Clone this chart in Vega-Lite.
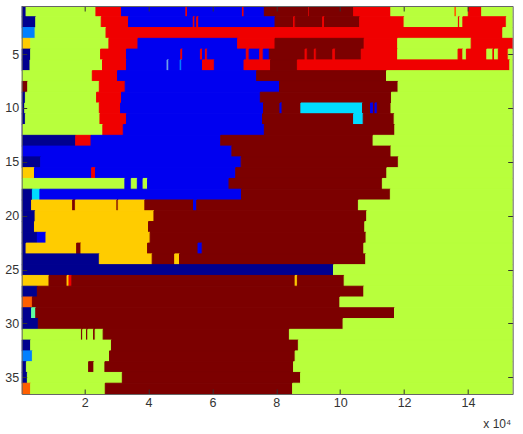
{"$schema":"https://vega.github.io/schema/vega-lite/v6.json","width":491,"height":388,"autosize":"none","padding":{"left":21.7,"top":6,"right":10.3,"bottom":40},"background":"white","config":{"view":{"stroke":null},"axis":{"labelFont":"Liberation Sans","titleFont":"Liberation Sans"}},
"datasets":{"segs":[
{"row":1,"x0":0.03,"x1":0.167,"c":"navy"},{"row":1,"x0":0.167,"x1":2.354,"c":"lime"},{"row":1,"x0":2.354,"x1":3.156,"c":"red"},{"row":1,"x0":3.156,"x1":5.17,"c":"blue"},{"row":1,"x0":5.17,"x1":5.22,"c":"red"},{"row":1,"x0":5.22,"x1":6.94,"c":"blue"},{"row":1,"x0":6.94,"x1":6.99,"c":"red"},{"row":1,"x0":6.99,"x1":7.625,"c":"blue"},{"row":1,"x0":7.625,"x1":9.02,"c":"maroon"},{"row":1,"x0":9.02,"x1":9.04,"c":"red"},{"row":1,"x0":9.04,"x1":10.42,"c":"maroon"},{"row":1,"x0":10.42,"x1":11.585,"c":"red"},{"row":1,"x0":11.585,"x1":13.59,"c":"lime"},{"row":1,"x0":13.59,"x1":13.64,"c":"orange"},{"row":1,"x0":13.64,"x1":14.01,"c":"lime"},{"row":1,"x0":14.01,"x1":14.43,"c":"red"},{"row":1,"x0":14.43,"x1":15.4,"c":"lime"},
{"row":2,"x0":0.03,"x1":0.47,"c":"navy"},{"row":2,"x0":0.47,"x1":2.52,"c":"lime"},{"row":2,"x0":2.52,"x1":3.375,"c":"red"},{"row":2,"x0":3.375,"x1":5.4,"c":"blue"},{"row":2,"x0":5.4,"x1":5.45,"c":"red"},{"row":2,"x0":5.45,"x1":5.51,"c":"blue"},{"row":2,"x0":5.51,"x1":5.57,"c":"red"},{"row":2,"x0":5.57,"x1":7.96,"c":"blue"},{"row":2,"x0":7.96,"x1":8.54,"c":"maroon"},{"row":2,"x0":8.54,"x1":8.59,"c":"red"},{"row":2,"x0":8.59,"x1":9.45,"c":"maroon"},{"row":2,"x0":9.45,"x1":9.51,"c":"red"},{"row":2,"x0":9.51,"x1":10.61,"c":"maroon"},{"row":2,"x0":10.61,"x1":12.0,"c":"red"},{"row":2,"x0":12.0,"x1":13.7,"c":"lime"},{"row":2,"x0":13.7,"x1":13.74,"c":"red"},{"row":2,"x0":13.74,"x1":13.84,"c":"lime"},{"row":2,"x0":13.84,"x1":15.2,"c":"red"},{"row":2,"x0":15.2,"x1":15.4,"c":"lime"},
{"row":3,"x0":0.03,"x1":0.45,"c":"azure"},{"row":3,"x0":0.45,"x1":2.67,"c":"lime"},{"row":3,"x0":2.67,"x1":15.09,"c":"red"},{"row":3,"x0":15.09,"x1":15.4,"c":"lime"},
{"row":4,"x0":0.03,"x1":0.31,"c":"amber"},{"row":4,"x0":0.31,"x1":2.76,"c":"lime"},{"row":4,"x0":2.76,"x1":3.67,"c":"red"},{"row":4,"x0":3.67,"x1":6.79,"c":"blue"},{"row":4,"x0":6.79,"x1":7.96,"c":"red"},{"row":4,"x0":7.96,"x1":10.75,"c":"maroon"},{"row":4,"x0":10.75,"x1":11.8,"c":"red"},{"row":4,"x0":11.8,"x1":14.1,"c":"lime"},{"row":4,"x0":14.1,"x1":15.4,"c":"red"},
{"row":5,"x0":0.03,"x1":0.31,"c":"navy"},{"row":5,"x0":0.31,"x1":2.5,"c":"lime"},{"row":5,"x0":2.5,"x1":3.31,"c":"red"},{"row":5,"x0":3.31,"x1":5.01,"c":"blue"},{"row":5,"x0":5.01,"x1":5.07,"c":"red"},{"row":5,"x0":5.07,"x1":5.625,"c":"blue"},{"row":5,"x0":5.625,"x1":5.69,"c":"red"},{"row":5,"x0":5.69,"x1":5.78,"c":"blue"},{"row":5,"x0":5.78,"x1":5.84,"c":"red"},{"row":5,"x0":5.84,"x1":7.06,"c":"blue"},{"row":5,"x0":7.06,"x1":7.15,"c":"red"},{"row":5,"x0":7.15,"x1":7.48,"c":"blue"},{"row":5,"x0":7.48,"x1":7.59,"c":"red"},{"row":5,"x0":7.59,"x1":7.78,"c":"blue"},{"row":5,"x0":7.78,"x1":8.9,"c":"maroon"},{"row":5,"x0":8.9,"x1":8.97,"c":"red"},{"row":5,"x0":8.97,"x1":9.19,"c":"maroon"},{"row":5,"x0":9.19,"x1":9.25,"c":"red"},{"row":5,"x0":9.25,"x1":9.77,"c":"maroon"},{"row":5,"x0":9.77,"x1":9.85,"c":"red"},{"row":5,"x0":9.85,"x1":10.66,"c":"maroon"},{"row":5,"x0":10.66,"x1":11.8,"c":"red"},{"row":5,"x0":11.8,"x1":13.69,"c":"lime"},{"row":5,"x0":13.69,"x1":13.84,"c":"red"},{"row":5,"x0":13.84,"x1":13.95,"c":"lime"},{"row":5,"x0":13.95,"x1":14.59,"c":"red"},{"row":5,"x0":14.59,"x1":14.78,"c":"lime"},{"row":5,"x0":14.78,"x1":14.83,"c":"red"},{"row":5,"x0":14.83,"x1":14.95,"c":"lime"},{"row":5,"x0":14.95,"x1":15.26,"c":"red"},{"row":5,"x0":15.26,"x1":15.4,"c":"lime"},
{"row":6,"x0":0.03,"x1":0.29,"c":"navy"},{"row":6,"x0":0.29,"x1":2.56,"c":"lime"},{"row":6,"x0":2.56,"x1":3.31,"c":"red"},{"row":6,"x0":3.31,"x1":4.58,"c":"blue"},{"row":6,"x0":4.58,"x1":4.635,"c":"sky"},{"row":6,"x0":4.635,"x1":4.99,"c":"blue"},{"row":6,"x0":4.99,"x1":5.04,"c":"azure"},{"row":6,"x0":5.04,"x1":5.69,"c":"blue"},{"row":6,"x0":5.69,"x1":6.06,"c":"red"},{"row":6,"x0":6.06,"x1":6.99,"c":"blue"},{"row":6,"x0":6.99,"x1":7.82,"c":"red"},{"row":6,"x0":7.82,"x1":8.66,"c":"maroon"},{"row":6,"x0":8.66,"x1":15.31,"c":"red"},{"row":6,"x0":15.31,"x1":15.4,"c":"lime"},
{"row":7,"x0":0.03,"x1":2.24,"c":"lime"},{"row":7,"x0":2.24,"x1":3.03,"c":"red"},{"row":7,"x0":3.03,"x1":7.385,"c":"blue"},{"row":7,"x0":7.385,"x1":11.45,"c":"maroon"},{"row":7,"x0":11.45,"x1":15.4,"c":"lime"},
{"row":8,"x0":0.03,"x1":0.219,"c":"maroon"},{"row":8,"x0":0.219,"x1":2.46,"c":"lime"},{"row":8,"x0":2.46,"x1":3.27,"c":"red"},{"row":8,"x0":3.27,"x1":8.1,"c":"blue"},{"row":8,"x0":8.1,"x1":11.81,"c":"maroon"},{"row":8,"x0":11.81,"x1":15.4,"c":"lime"},
{"row":9,"x0":0.03,"x1":0.146,"c":"navy"},{"row":9,"x0":0.146,"x1":2.375,"c":"lime"},{"row":9,"x0":2.375,"x1":3.156,"c":"red"},{"row":9,"x0":3.156,"x1":7.5,"c":"blue"},{"row":9,"x0":7.5,"x1":11.605,"c":"maroon"},{"row":9,"x0":11.605,"x1":15.4,"c":"lime"},
{"row":10,"x0":0.03,"x1":0.125,"c":"navy"},{"row":10,"x0":0.125,"x1":2.46,"c":"lime"},{"row":10,"x0":2.46,"x1":3.125,"c":"red"},{"row":10,"x0":3.125,"x1":7.6,"c":"blue"},{"row":10,"x0":7.6,"x1":8.115,"c":"maroon"},{"row":10,"x0":8.115,"x1":8.18,"c":"blue"},{"row":10,"x0":8.18,"x1":8.77,"c":"maroon"},{"row":10,"x0":8.77,"x1":10.7,"c":"cyan"},{"row":10,"x0":10.7,"x1":10.95,"c":"maroon"},{"row":10,"x0":10.95,"x1":11.04,"c":"blue"},{"row":10,"x0":11.04,"x1":11.09,"c":"maroon"},{"row":10,"x0":11.09,"x1":11.16,"c":"blue"},{"row":10,"x0":11.16,"x1":11.59,"c":"maroon"},{"row":10,"x0":11.59,"x1":15.4,"c":"lime"},
{"row":11,"x0":0.03,"x1":0.146,"c":"navy"},{"row":11,"x0":0.146,"x1":2.48,"c":"lime"},{"row":11,"x0":2.48,"x1":3.31,"c":"red"},{"row":11,"x0":3.31,"x1":7.57,"c":"blue"},{"row":11,"x0":7.57,"x1":10.42,"c":"maroon"},{"row":11,"x0":10.42,"x1":10.72,"c":"cyan"},{"row":11,"x0":10.72,"x1":11.69,"c":"maroon"},{"row":11,"x0":11.69,"x1":15.4,"c":"lime"},
{"row":12,"x0":0.03,"x1":0.06,"c":"navy"},{"row":12,"x0":0.06,"x1":2.57,"c":"lime"},{"row":12,"x0":2.57,"x1":3.21,"c":"red"},{"row":12,"x0":3.21,"x1":7.625,"c":"blue"},{"row":12,"x0":7.625,"x1":11.71,"c":"maroon"},{"row":12,"x0":11.71,"x1":15.4,"c":"lime"},
{"row":13,"x0":0.03,"x1":1.72,"c":"navy"},{"row":13,"x0":1.72,"x1":2.2,"c":"red"},{"row":13,"x0":2.2,"x1":6.26,"c":"blue"},{"row":13,"x0":6.26,"x1":11.03,"c":"maroon"},{"row":13,"x0":11.03,"x1":15.4,"c":"lime"},
{"row":14,"x0":0.03,"x1":6.61,"c":"blue"},{"row":14,"x0":6.61,"x1":11.59,"c":"maroon"},{"row":14,"x0":11.59,"x1":15.4,"c":"lime"},
{"row":15,"x0":0.03,"x1":0.625,"c":"navy"},{"row":15,"x0":0.625,"x1":6.9,"c":"blue"},{"row":15,"x0":6.9,"x1":11.82,"c":"maroon"},{"row":15,"x0":11.82,"x1":15.4,"c":"lime"},
{"row":16,"x0":0.03,"x1":0.43,"c":"amber"},{"row":16,"x0":0.43,"x1":2.22,"c":"blue"},{"row":16,"x0":2.22,"x1":2.34,"c":"red"},{"row":16,"x0":2.34,"x1":6.73,"c":"blue"},{"row":16,"x0":6.73,"x1":11.46,"c":"maroon"},{"row":16,"x0":11.46,"x1":15.4,"c":"lime"},
{"row":17,"x0":0.03,"x1":3.26,"c":"lime"},{"row":17,"x0":3.26,"x1":3.46,"c":"blue"},{"row":17,"x0":3.46,"x1":3.65,"c":"lime"},{"row":17,"x0":3.65,"x1":3.83,"c":"blue"},{"row":17,"x0":3.83,"x1":3.97,"c":"lime"},{"row":17,"x0":3.97,"x1":6.52,"c":"blue"},{"row":17,"x0":6.52,"x1":11.32,"c":"maroon"},{"row":17,"x0":11.32,"x1":15.4,"c":"lime"},
{"row":18,"x0":0.03,"x1":0.365,"c":"navy"},{"row":18,"x0":0.365,"x1":0.6,"c":"cyan"},{"row":18,"x0":0.6,"x1":6.91,"c":"blue"},{"row":18,"x0":6.91,"x1":11.57,"c":"maroon"},{"row":18,"x0":11.57,"x1":15.4,"c":"lime"},
{"row":19,"x0":0.03,"x1":0.34,"c":"navy"},{"row":19,"x0":0.34,"x1":1.625,"c":"amber"},{"row":19,"x0":1.625,"x1":1.71,"c":"maroon"},{"row":19,"x0":1.71,"x1":3.01,"c":"amber"},{"row":19,"x0":3.01,"x1":3.05,"c":"maroon"},{"row":19,"x0":3.05,"x1":3.885,"c":"amber"},{"row":19,"x0":3.885,"x1":5.41,"c":"maroon"},{"row":19,"x0":5.41,"x1":5.51,"c":"blue"},{"row":19,"x0":5.51,"x1":10.57,"c":"maroon"},{"row":19,"x0":10.57,"x1":15.4,"c":"lime"},
{"row":20,"x0":0.03,"x1":0.45,"c":"navy"},{"row":20,"x0":0.45,"x1":4.17,"c":"amber"},{"row":20,"x0":4.17,"x1":10.83,"c":"maroon"},{"row":20,"x0":10.83,"x1":15.4,"c":"lime"},
{"row":21,"x0":0.03,"x1":0.43,"c":"navy"},{"row":21,"x0":0.43,"x1":4.0,"c":"amber"},{"row":21,"x0":4.0,"x1":10.77,"c":"maroon"},{"row":21,"x0":10.77,"x1":15.4,"c":"lime"},
{"row":22,"x0":0.03,"x1":0.52,"c":"navy"},{"row":22,"x0":0.52,"x1":0.79,"c":"blue"},{"row":22,"x0":0.79,"x1":4.05,"c":"amber"},{"row":22,"x0":4.05,"x1":10.81,"c":"maroon"},{"row":22,"x0":10.81,"x1":15.4,"c":"lime"},
{"row":23,"x0":0.03,"x1":0.167,"c":"navy"},{"row":23,"x0":0.167,"x1":1.75,"c":"amber"},{"row":23,"x0":1.75,"x1":1.885,"c":"maroon"},{"row":23,"x0":1.885,"x1":3.97,"c":"amber"},{"row":23,"x0":3.97,"x1":5.55,"c":"maroon"},{"row":23,"x0":5.55,"x1":5.68,"c":"blue"},{"row":23,"x0":5.68,"x1":10.74,"c":"maroon"},{"row":23,"x0":10.74,"x1":15.4,"c":"lime"},
{"row":24,"x0":0.03,"x1":2.46,"c":"navy"},{"row":24,"x0":2.46,"x1":4.115,"c":"amber"},{"row":24,"x0":4.115,"x1":4.82,"c":"maroon"},{"row":24,"x0":4.82,"x1":4.97,"c":"amber"},{"row":24,"x0":4.97,"x1":10.8,"c":"maroon"},{"row":24,"x0":10.8,"x1":15.4,"c":"lime"},
{"row":25,"x0":0.03,"x1":9.79,"c":"navy"},{"row":25,"x0":9.79,"x1":15.4,"c":"lime"},
{"row":26,"x0":0.03,"x1":0.885,"c":"amber"},{"row":26,"x0":0.885,"x1":1.45,"c":"maroon"},{"row":26,"x0":1.45,"x1":1.51,"c":"amber"},{"row":26,"x0":1.51,"x1":1.6,"c":"red"},{"row":26,"x0":1.6,"x1":8.59,"c":"maroon"},{"row":26,"x0":8.59,"x1":8.66,"c":"amber"},{"row":26,"x0":8.66,"x1":10.125,"c":"maroon"},{"row":26,"x0":10.125,"x1":15.4,"c":"lime"},
{"row":27,"x0":0.03,"x1":0.52,"c":"navy"},{"row":27,"x0":0.52,"x1":10.74,"c":"maroon"},{"row":27,"x0":10.74,"x1":15.4,"c":"lime"},
{"row":28,"x0":0.03,"x1":0.365,"c":"orange"},{"row":28,"x0":0.365,"x1":9.99,"c":"maroon"},{"row":28,"x0":9.99,"x1":15.4,"c":"lime"},
{"row":29,"x0":0.03,"x1":0.34,"c":"navy"},{"row":29,"x0":0.34,"x1":0.47,"c":"mint"},{"row":29,"x0":0.47,"x1":11.7,"c":"maroon"},{"row":29,"x0":11.7,"x1":15.4,"c":"lime"},
{"row":30,"x0":0.03,"x1":0.55,"c":"navy"},{"row":30,"x0":0.55,"x1":10.09,"c":"maroon"},{"row":30,"x0":10.09,"x1":15.4,"c":"lime"},
{"row":31,"x0":0.03,"x1":1.9,"c":"lime"},{"row":31,"x0":1.9,"x1":1.94,"c":"maroon"},{"row":31,"x0":1.94,"x1":2.06,"c":"lime"},{"row":31,"x0":2.06,"x1":2.1,"c":"maroon"},{"row":31,"x0":2.1,"x1":2.28,"c":"lime"},{"row":31,"x0":2.28,"x1":2.33,"c":"maroon"},{"row":31,"x0":2.33,"x1":2.58,"c":"lime"},{"row":31,"x0":2.58,"x1":8.41,"c":"maroon"},{"row":31,"x0":8.41,"x1":15.4,"c":"lime"},
{"row":32,"x0":0.03,"x1":0.31,"c":"navy"},{"row":32,"x0":0.31,"x1":2.84,"c":"lime"},{"row":32,"x0":2.84,"x1":8.69,"c":"maroon"},{"row":32,"x0":8.69,"x1":15.4,"c":"lime"},
{"row":33,"x0":0.03,"x1":0.365,"c":"azure"},{"row":33,"x0":0.365,"x1":2.78,"c":"lime"},{"row":33,"x0":2.78,"x1":8.59,"c":"maroon"},{"row":33,"x0":8.59,"x1":15.4,"c":"lime"},
{"row":34,"x0":0.03,"x1":0.177,"c":"navy"},{"row":34,"x0":0.177,"x1":2.125,"c":"lime"},{"row":34,"x0":2.125,"x1":2.29,"c":"maroon"},{"row":34,"x0":2.29,"x1":2.635,"c":"lime"},{"row":34,"x0":2.635,"x1":8.54,"c":"maroon"},{"row":34,"x0":8.54,"x1":15.4,"c":"lime"},
{"row":35,"x0":0.03,"x1":0.208,"c":"navy"},{"row":35,"x0":0.208,"x1":3.18,"c":"lime"},{"row":35,"x0":3.18,"x1":8.76,"c":"maroon"},{"row":35,"x0":8.76,"x1":15.4,"c":"lime"},
{"row":36,"x0":0.03,"x1":0.31,"c":"orange"},{"row":36,"x0":0.31,"x1":2.646,"c":"lime"},{"row":36,"x0":2.646,"x1":8.51,"c":"maroon"},{"row":36,"x0":8.51,"x1":15.4,"c":"lime"}
]},
"layer":[
{"data":{"name":"segs"},"mark":{"type":"rect","strokeWidth":1,"clip":true},
"encoding":{
"y":{"field":"row","type":"ordinal","scale":{"paddingInner":0,"paddingOuter":0},"axis":{"orient":"left","title":null,"values":[5,10,15,20,25,30,35],"labelAngle":0,"tickSize":-5,"tickColor":"#333","labelPadding":8,"labelFontSize":12.5,"labelColor":"#333","domainColor":"#666","zindex":1}},
"x":{"field":"x0","type":"quantitative","scale":{"domain":[0.03,15.4],"nice":false,"zero":false},"axis":{"orient":"bottom","title":"x 10⁴","titleFontSize":12,"titleFontWeight":"normal","titleColor":"#333","titleAnchor":"end","titleX":489,"titleY":24,"values":[2,4,6,8,10,12,14],"tickSize":-5,"tickColor":"#333","labelPadding":7,"labelFontSize":12.5,"labelColor":"#333","domainColor":"#666","grid":false,"zindex":1}},
"x2":{"field":"x1"},
"color":{"field":"c","type":"nominal","legend":null,"scale":{"domain":["navy","blue","azure","sky","cyan","mint","lime","amber","orange","red","maroon"],"range":["#00008f","#0000f0","#0080ff","#6f9fe8","#00dcff","#60ffa0","#b8ff3c","#ffcc00","#ff5f00","#f00000","#7c0000"]}},
"stroke":{"field":"c","type":"nominal","legend":null,"scale":{"domain":["navy","blue","azure","sky","cyan","mint","lime","amber","orange","red","maroon"],"range":["#00008f","#0000f0","#0080ff","#6f9fe8","#00dcff","#60ffa0","#b8ff3c","#ffcc00","#ff5f00","#f00000","#7c0000"]}}
}},
{"data":{"name":"segs"},"transform":[{"filter":"false"}],"mark":{"type":"rect"},
"encoding":{
"y":{"field":"row","type":"ordinal","axis":{"orient":"right","title":null,"values":[5,10,15,20,25,30,35],"labels":false,"tickSize":-5,"tickColor":"#333","domainColor":"#666","zindex":1}},
"x":{"field":"x0","type":"quantitative","axis":{"orient":"top","title":null,"values":[2,4,6,8,10,12,14],"labels":false,"tickSize":-5,"tickColor":"#333","domainColor":"#666","grid":false,"zindex":1}},
"x2":{"field":"x1"}
}}
],
"resolve":{"axis":{"x":"independent","y":"independent"}}
}
